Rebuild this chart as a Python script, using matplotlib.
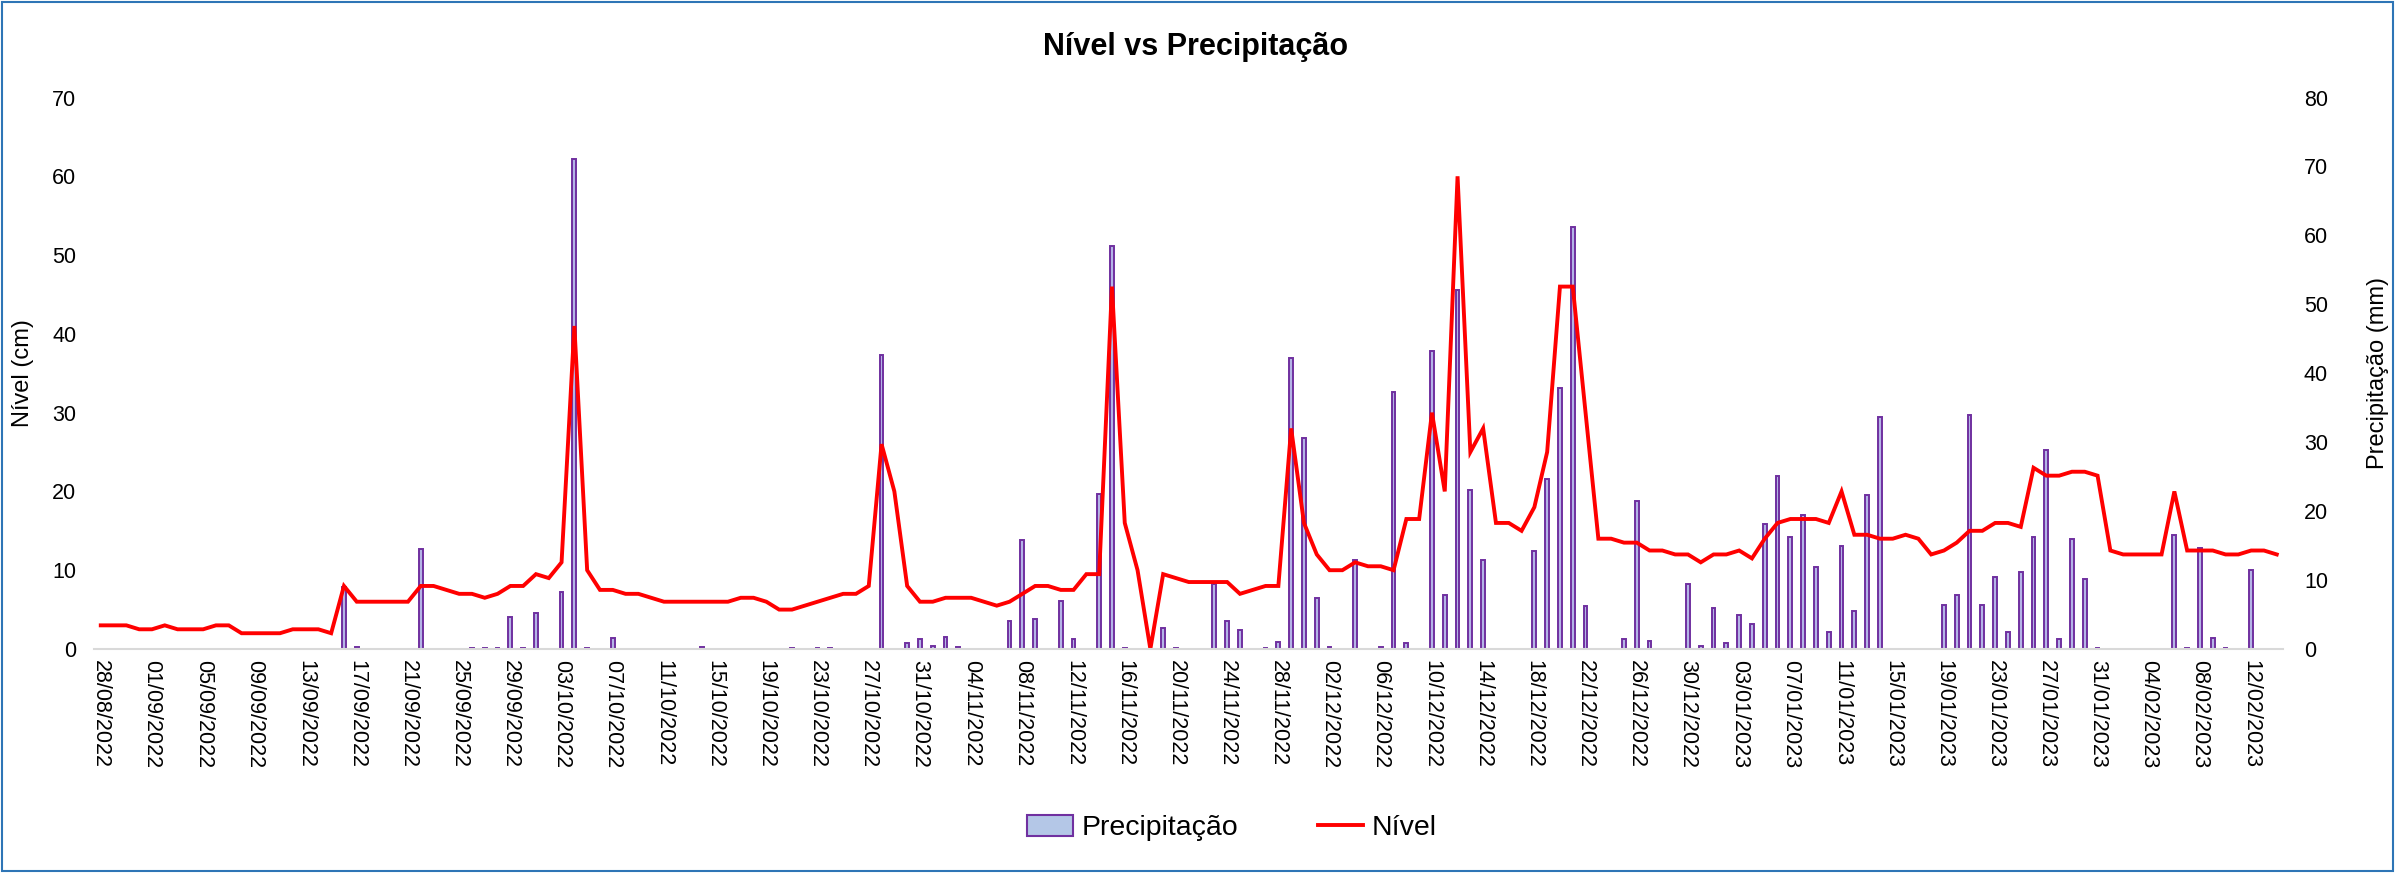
import matplotlib
matplotlib.use("Agg")
import matplotlib.pyplot as plt
import pandas as pd
from matplotlib.patches import Rectangle
from matplotlib.lines import Line2D

plt.rcParams['font.family'] = ['Liberation Sans', 'DejaVu Sans']

#------------------DATA------------------#

start_date = "2022-08-28"

# Nível (cm), one value per day
nivel = [
    3.0, 3.0, 3.0, 2.5, 2.5, 3.0, 2.5, 2.5, 2.5, 3.0, 3.0, 2.0, 2.0, 2.0, 2.0, 2.5, 2.5, 2.5, 2.0,
    8.0, 6.0, 6.0, 6.0, 6.0, 6.0,
    8.0, 8.0, 7.5, 7.0, 7.0, 6.5, 7.0, 8.0, 8.0, 9.5, 9.0, 11.0, 41.0, 10.0, 7.5, 7.5, 7.0, 7.0,
    6.5, 6.0, 6.0, 6.0, 6.0, 6.0,
    6.0, 6.5, 6.5, 6.0, 5.0, 5.0, 5.5, 6.0, 6.5, 7.0, 7.0, 8.0, 26.0, 20.0, 8.0, 6.0, 6.0, 6.5,
    6.5, 6.5, 6.0, 5.5, 6.0, 7.0,
    8.0, 8.0, 7.5, 7.5, 9.5, 9.5, 46.0, 16.0, 10.0, 0.0, 9.5, 9.0, 8.5, 8.5, 8.5, 8.5, 7.0, 7.5,
    8.0, 8.0, 28.0, 16.0, 12.0, 10.0, 10.0,
    11.0, 10.5, 10.5, 10.0, 16.5, 16.5, 30.0, 20.0, 60.0, 25.0, 28.0, 16.0, 16.0, 15.0, 18.0,
    25.0, 46.0, 46.0, 30.0, 14.0, 14.0, 13.5, 13.5, 12.5, 12.5,
    12.0, 12.0, 11.0, 12.0, 12.0, 12.5, 11.5, 14.0, 16.0, 16.5, 16.5, 16.5, 16.0, 20.0, 14.5,
    14.5, 14.0, 14.0, 14.5, 14.0, 12.0, 12.5, 13.5, 15.0,
    15.0, 16.0, 16.0, 15.5, 23.0, 22.0, 22.0, 22.5, 22.5, 22.0, 12.5, 12.0, 12.0, 12.0, 12.0,
    20.0, 12.5, 12.5, 12.5, 12.0, 12.0, 12.5, 12.5, 12.0,
]

# Precipitação (mm), one value per day
precipitacao = [
    0, 0, 0, 0, 0, 0, 0, 0, 0, 0, 0, 0, 0, 0, 0, 0, 0, 0, 0,
    9.0, 0.3, 0, 0, 0, 0,
    14.5, 0, 0, 0, 0.2, 0.2, 0.2, 4.6, 0.2, 5.2, 0, 8.2, 71.1, 0.2, 0, 1.6, 0, 0,
    0, 0, 0, 0, 0.3, 0,
    0, 0, 0, 0, 0, 0.2, 0, 0.2, 0.2, 0, 0, 0, 42.6, 0, 0.8, 1.5, 0.5, 1.8,
    0.3, 0, 0, 0, 4.1, 15.8,
    4.4, 0, 7.0, 1.5, 0, 22.5, 58.5, 0.2, 0, 0, 3.1, 0.2, 0, 0, 9.4, 4.0, 2.7, 0,
    0.2, 1.0, 42.2, 30.6, 7.4, 0.3, 0,
    12.9, 0, 0.3, 37.3, 0.8, 0, 43.3, 7.8, 52.1, 23.0, 12.9, 0, 0, 0, 14.2,
    24.7, 37.8, 61.2, 6.3, 0, 0, 1.4, 21.4, 1.1, 0,
    0, 9.4, 0.4, 6.0, 0.8, 4.9, 3.6, 18.2, 25.1, 16.2, 19.5, 11.9, 2.5, 15.0, 5.5,
    22.4, 33.6, 0, 0, 0, 0, 6.4, 7.8, 34.0,
    6.4, 10.4, 2.4, 11.1, 16.2, 28.9, 1.4, 16.0, 10.1, 0.2, 0, 0, 0, 0, 0,
    16.6, 0.2, 14.6, 1.6, 0.2, 0, 11.5, 0, 0,
]

dates = pd.date_range(start_date, periods=len(nivel))
tick_pos = list(range(0, len(nivel), 4))
tick_labels = [dates[i].strftime("%d/%m/%Y") for i in tick_pos]
x = list(range(len(nivel)))

#------------------PLOT------------------#

fig = plt.figure(figsize=(23.95, 8.73), dpi=100)
ax = fig.add_axes([0.0394, 0.2566, 0.9139, 0.6317])   # line, left axis
axb = ax.twinx()                                      # bars, right axis
axb.set_zorder(0)
ax.set_zorder(1)
ax.patch.set_visible(False)

axb.bar(x, precipitacao, width=0.3, color="#B4B4E6", edgecolor="#7030A0", linewidth=1.4)
ax.plot(x, nivel, color="#FF0000", linewidth=2.8, solid_joinstyle="miter")

ax.set_xlim(-0.5, len(nivel) - 0.5)
ax.set_ylim(0, 70)
axb.set_ylim(0, 80)
ax.set_yticks(range(0, 71, 10))
axb.set_yticks(range(0, 81, 10))

ax.set_xticks(tick_pos)
ax.set_xticklabels(tick_labels, rotation=270, fontsize=15.5)
ax.tick_params(axis="x", length=0, pad=8)
ax.tick_params(axis="y", length=0, pad=13, labelsize=15.5)
axb.tick_params(axis="y", length=0, pad=15, labelsize=15.5)

for a in (ax, axb):
    for s in a.spines.values():
        s.set_visible(False)
ax.spines["bottom"].set_visible(True)
ax.spines["bottom"].set_color("#D9D9D9")
ax.spines["bottom"].set_linewidth(1.5)

fig.text(23 / 2395, 1 - 373 / 873, "Nível (cm)", rotation=90, fontsize=17,
         ha="center", va="center")
fig.text(2378 / 2395, 1 - 373 / 873, "Precipitação (mm)", rotation=90, fontsize=17,
         ha="center", va="center")
fig.text(1196 / 2395, 1 - 47 / 873, "Nível vs Precipitação", fontsize=22,
         fontweight="bold", ha="center", va="center")

handles = [Rectangle((0, 0), 1, 1, facecolor="#B4C7E7", edgecolor="#7030A0", linewidth=1.5),
           Line2D([0], [0], color="#FF0000", linewidth=2.8)]
fig.legend(handles, ["Precipitação", "Nível"], loc="center", ncol=2,
           bbox_to_anchor=(1232 / 2395, 1 - 828 / 873), frameon=False, fontsize=20.5,
           handlelength=1.6, handleheight=0.8, handletextpad=0.3, columnspacing=2.8)

# blue chart border
fig.patches.append(Rectangle((0.001, 0.002), 0.998, 0.996, transform=fig.transFigure,
                             fill=False, edgecolor="#2E75B6", linewidth=1.5))

fig.savefig("out.png", dpi=100)
